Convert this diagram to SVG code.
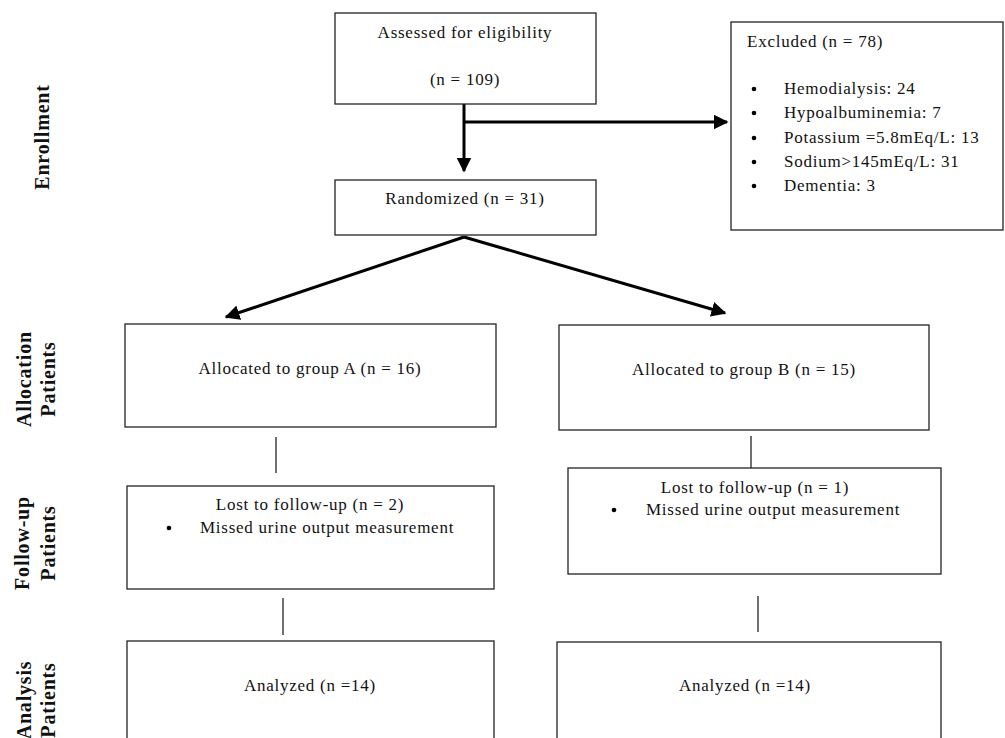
<svg xmlns="http://www.w3.org/2000/svg" width="1005" height="738" viewBox="0 0 1005 738">
<style>
.box{fill:#fff;stroke:#222;stroke-width:1.3}
.t{font-family:"Liberation Serif","Times New Roman",serif;font-size:17px;letter-spacing:0.75px;fill:#111}
.c{text-anchor:middle}
.lab{font-family:"Liberation Serif","Times New Roman",serif;font-size:20px;letter-spacing:0.8px;font-weight:bold;fill:#111;text-anchor:middle}
.thick{stroke:#000;stroke-width:3;fill:none}
.thin{stroke:#111;stroke-width:1.2;fill:none}
</style>
<defs>
<marker id="ah" markerWidth="5" markerHeight="5" refX="4.5" refY="2.5" orient="auto" markerUnits="strokeWidth">
<path d="M0,0 L5,2.5 L0,5 z" fill="#000"/>
</marker>
</defs>
<rect width="1005" height="738" fill="#fff"/>
<g id="labels">
<text class="lab" transform="translate(49,137) rotate(-90)">Enrollment</text>
<text class="lab" transform="translate(31,379) rotate(-90)">Allocation</text>
<text class="lab" transform="translate(55,379) rotate(-90)">Patients</text>
<text class="lab" transform="translate(29,543) rotate(-90)">Follow-up</text>
<text class="lab" transform="translate(55,543) rotate(-90)">Patients</text>
<text class="lab" transform="translate(31,700) rotate(-90)">Analysis</text>
<text class="lab" transform="translate(55,700) rotate(-90)">Patients</text>
</g>
<g id="connectors">
<path class="thick" d="M464,97 V171" marker-end="url(#ah)"/>
<path class="thick" d="M464,122 H727" marker-end="url(#ah)"/>
<path class="thick" d="M464,237 L226,317" marker-end="url(#ah)"/>
<path class="thick" d="M464,237 L725,313" marker-end="url(#ah)"/>
<path class="thin" d="M276,437 V473"/>
<path class="thin" d="M751,436 V473"/>
<path class="thin" d="M283,598 V635"/>
<path class="thin" d="M758,596 V632"/>
</g>
<g id="assessed">
<rect class="box" x="335" y="13" width="261" height="91"/>
<text class="t c" x="465" y="38">Assessed for eligibility</text>
<text class="t c" x="465" y="85">(n = 109)</text>
</g>
<g id="excluded">
<rect class="box" x="731" y="22" width="272" height="208"/>
<text class="t" x="747" y="47">Excluded (n = 78)</text>
<g class="t">
<circle cx="754" cy="89" r="2.3" fill="#000"/>
<circle cx="754" cy="113" r="2.3" fill="#000"/>
<circle cx="754" cy="138" r="2.3" fill="#000"/>
<circle cx="754" cy="162" r="2.3" fill="#000"/>
<circle cx="754" cy="186" r="2.3" fill="#000"/>
<text x="784" y="94">Hemodialysis: 24</text>
<text x="784" y="118">Hypoalbuminemia: 7</text>
<text x="784" y="143">Potassium =5.8mEq/L: 13</text>
<text x="784" y="167">Sodium&gt;145mEq/L: 31</text>
<text x="784" y="191">Dementia: 3</text>
</g>
</g>
<g id="randomized">
<rect class="box" x="335" y="180" width="261" height="55"/>
<text class="t c" x="465" y="204">Randomized (n = 31)</text>
</g>
<g id="allocA">
<rect class="box" x="125" y="324" width="371" height="103"/>
<text class="t c" x="310" y="374">Allocated to group A (n = 16)</text>
</g>
<g id="allocB">
<rect class="box" x="559" y="325" width="370" height="105"/>
<text class="t c" x="744" y="375">Allocated to group B (n = 15)</text>
</g>
<g id="followA">
<rect class="box" x="127" y="486" width="367" height="103"/>
<text class="t c" x="310" y="510">Lost to follow-up (n = 2)</text>
<circle cx="169" cy="528" r="2.3" fill="#000"/>
<text class="t" x="200" y="533">Missed urine output measurement</text>
</g>
<g id="followB">
<rect class="box" x="568" y="468" width="373" height="106"/>
<text class="t c" x="755" y="493">Lost to follow-up (n = 1)</text>
<circle cx="614" cy="510" r="2.3" fill="#000"/>
<text class="t" x="646" y="515">Missed urine output measurement</text>
</g>
<g id="analysisA">
<rect class="box" x="127" y="641" width="367" height="110"/>
<text class="t c" x="310" y="691">Analyzed (n =14)</text>
</g>
<g id="analysisB">
<rect class="box" x="557" y="642" width="384" height="110"/>
<text class="t c" x="745" y="691">Analyzed (n =14)</text>
</g>
</svg>
